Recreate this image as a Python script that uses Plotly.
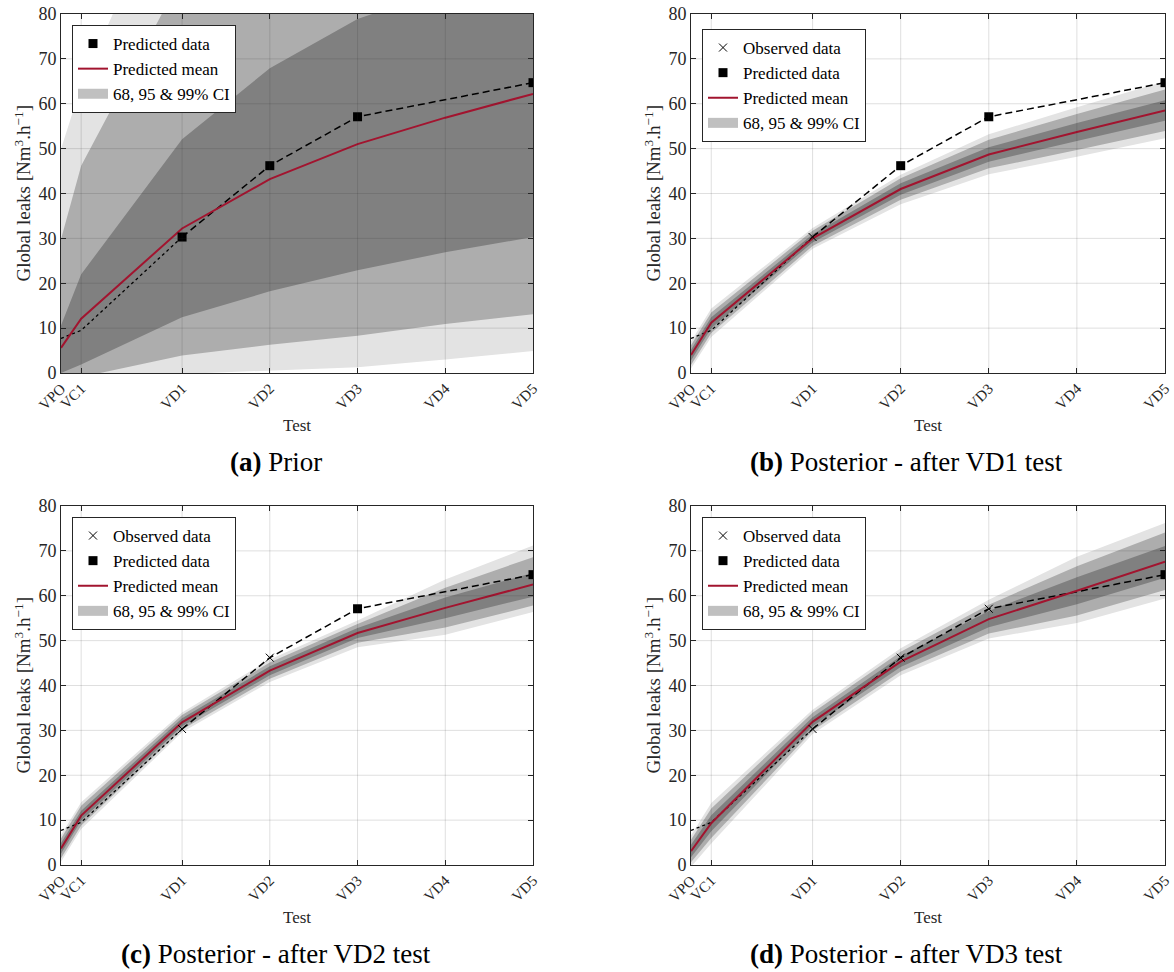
import plotly.graph_objects as go

# ---------------- data ----------------
tests = ["VPO", "VC1", "VD1", "VD2", "VD3", "VD4", "VD5"]
test_pos = [0.0, 0.23, 1.38, 2.38, 3.38, 4.38, 5.38]

# measured leak values (dotted part before VD1, dashed part from VD1)
early_tests = ["VPO", "VC1", "VD1"]
early_vals = [7.7, 9.5, 30.3]
late_tests = ["VD1", "VD2", "VD3", "VD5"]
late_vals = [30.3, 46.2, 57.1, 64.7]

# (a) Prior
a_mean = [5.6, 12.1, 32.2, 43.2, 51.0, 56.9, 62.2]
a_lo68 = [0.0, 1.9, 12.4, 18.2, 22.9, 26.9, 30.3]
a_hi68 = [10.6, 22.0, 52.1, 67.9, 78.9, 85.5, 91.0]
a_lo95 = [-3.0, -0.9, 3.9, 6.3, 8.3, 10.9, 13.1]
a_hi95 = [29.8, 46.2, 88.5, 105.0, 118.0, 128.0, 137.0]
a_lo99 = [-8.0, -5.0, -0.2, 0.6, 1.3, 3.0, 4.9]
a_hi99 = [49.9, 64.0, 115.0, 135.0, 150.0, 160.0, 170.0]
a_obs = []
a_pred = ["VD1", "VD2", "VD3", "VD5"]

# (b) Posterior after VD1
b_mean = [4.0, 11.2, 30.0, 41.0, 48.7, 53.7, 58.5]
b_lo68 = [2.8, 10.0, 29.1, 39.7, 47.1, 51.7, 56.2]
b_hi68 = [5.2, 12.4, 30.9, 42.3, 50.3, 55.7, 60.8]
b_lo95 = [1.8, 8.9, 28.3, 38.6, 45.6, 49.7, 53.9]
b_hi95 = [6.2, 13.5, 31.7, 43.4, 52.0, 57.7, 63.2]
b_lo99 = [1.0, 8.0, 27.7, 37.6, 44.3, 48.2, 52.3]
b_hi99 = [7.0, 14.4, 32.3, 44.2, 53.2, 59.2, 65.0]
b_obs = ["VD1"]
b_pred = ["VD2", "VD3", "VD5"]

# (c) Posterior after VD2
c_mean = [3.7, 11.0, 31.8, 43.3, 51.7, 57.3, 62.5]
c_lo68 = [2.5, 9.9, 30.9, 42.3, 50.6, 55.0, 59.8]
c_hi68 = [4.9, 12.1, 32.7, 44.3, 52.8, 59.6, 65.1]
c_lo95 = [1.5, 8.8, 30.2, 41.5, 49.5, 52.9, 57.8]
c_hi95 = [5.9, 13.2, 33.4, 45.1, 53.7, 61.8, 68.6]
c_lo99 = [0.7, 8.0, 29.6, 40.8, 48.5, 51.3, 56.4]
c_hi99 = [6.7, 14.0, 34.0, 45.8, 54.5, 63.6, 71.2]
c_obs = ["VD1", "VD2"]
c_pred = ["VD3", "VD5"]

# (d) Posterior after VD3
d_mean = [3.1, 9.3, 31.9, 45.3, 54.8, 61.1, 67.6]
d_lo68 = [1.7, 7.5, 30.9, 44.1, 53.0, 58.1, 64.0]
d_hi68 = [4.5, 11.1, 32.9, 46.5, 56.6, 64.1, 71.1]
d_lo95 = [0.6, 6.0, 29.9, 43.1, 51.6, 55.6, 61.3]
d_hi95 = [5.6, 12.6, 33.9, 47.5, 58.0, 66.6, 74.1]
d_lo99 = [-0.4, 4.8, 29.2, 42.3, 50.5, 53.9, 59.4]
d_hi99 = [6.6, 13.8, 34.6, 48.3, 59.1, 68.7, 76.2]
d_obs = ["VD1", "VD2", "VD3"]
d_pred = ["VD5"]

captions = ["Prior", "Posterior - after VD1 test",
            "Posterior - after VD2 test", "Posterior - after VD3 test"]
letters = ["a", "b", "c", "d"]
y_ticks = [0, 10, 20, 30, 40, 50, 60, 70, 80]

# ---------------- styling ----------------
W, H = 1174, 972
FONT = "Liberation Serif, Times New Roman, serif"
TXT = "#262626"
C99, C95, C68, CLEG = "#e3e3e3", "#adadad", "#808080", "#c0c0c0"
RED = "#A2142F"

# panel boxes in pixels: (left, right, top, bottom)
boxes = [(61, 533, 14, 373), (691, 1165, 14, 373),
         (61, 533, 506, 865), (691, 1165, 506, 865)]
legend_pos = [(72, 25), (702, 29), (72, 517), (702, 517)]
caption_cx = [276, 906, 276, 906]

panels = [
    (a_mean, a_lo68, a_hi68, a_lo95, a_hi95, a_lo99, a_hi99, a_obs, a_pred),
    (b_mean, b_lo68, b_hi68, b_lo95, b_hi95, b_lo99, b_hi99, b_obs, b_pred),
    (c_mean, c_lo68, c_hi68, c_lo95, c_hi95, c_lo99, c_hi99, c_obs, c_pred),
    (d_mean, d_lo68, d_hi68, d_lo95, d_hi95, d_lo99, d_hi99, d_obs, d_pred),
]

pos_of = dict(zip(tests, test_pos))
val_of = dict(zip(early_tests, early_vals))
val_of.update(dict(zip(late_tests, late_vals)))

fig = go.Figure()
layout = dict(width=W, height=H, margin=dict(l=0, r=0, t=0, b=0, autoexpand=False),
              paper_bgcolor="white", plot_bgcolor="white",
              font=dict(family=FONT, color=TXT), shapes=[], annotations=[])

for i, (mean, lo68, hi68, lo95, hi95, lo99, hi99, obs, pred) in enumerate(panels):
    n = i + 1
    xa = "x" if n == 1 else f"x{n}"
    ya = "y" if n == 1 else f"y{n}"
    leg = "legend" if n == 1 else f"legend{n}"
    L, R, T, B = boxes[i]

    # confidence bands (99, 95, 68)
    for lo, hi, col in [(lo99, hi99, C99), (lo95, hi95, C95), (lo68, hi68, C68)]:
        fig.add_trace(go.Scatter(
            x=test_pos + test_pos[::-1], y=hi + lo[::-1], fill="toself",
            fillcolor=col, line=dict(width=0), mode="lines",
            showlegend=False, hoverinfo="skip", xaxis=xa, yaxis=ya))

    # data lines
    fig.add_trace(go.Scatter(
        x=[pos_of[t] for t in early_tests], y=early_vals, mode="lines",
        line=dict(color="black", width=1.3, dash="dot"),
        showlegend=False, xaxis=xa, yaxis=ya))
    fig.add_trace(go.Scatter(
        x=[pos_of[t] for t in late_tests], y=late_vals, mode="lines",
        line=dict(color="black", width=1.5, dash="7px,4px"),
        showlegend=False, xaxis=xa, yaxis=ya))

    # predicted mean
    fig.add_trace(go.Scatter(
        x=test_pos, y=mean, mode="lines", name="Predicted mean",
        line=dict(color=RED, width=2), legend=leg, legendrank=3,
        xaxis=xa, yaxis=ya))

    # observed markers
    if obs:
        fig.add_trace(go.Scatter(
            x=[pos_of[t] for t in obs], y=[val_of[t] for t in obs],
            mode="markers", name="Observed data",
            marker=dict(symbol="x-thin-open", size=8, color="black",
                        line=dict(width=1, color="black")),
            legend=leg, legendrank=1, xaxis=xa, yaxis=ya))
    # predicted markers
    fig.add_trace(go.Scatter(
        x=[pos_of[t] for t in pred], y=[val_of[t] for t in pred],
        mode="markers", name="Predicted data",
        marker=dict(symbol="square", size=9, color="black"),
        legend=leg, legendrank=2, xaxis=xa, yaxis=ya))
    # CI legend entry (legend only)
    fig.add_trace(go.Scatter(
        x=[None], y=[None], mode="lines",
        line=dict(width=14, color=CLEG), name="68, 95 & 99% CI",
        legend=leg, legendrank=4, xaxis=xa, yaxis=ya))

    xdom = [L / W, R / W]
    ydom = [1 - B / H, 1 - T / H]
    axkey_x = "xaxis" if n == 1 else f"xaxis{n}"
    axkey_y = "yaxis" if n == 1 else f"yaxis{n}"
    layout[axkey_x] = dict(
        domain=xdom, anchor=ya, range=[test_pos[0], test_pos[-1]],
        tickvals=test_pos, ticktext=tests, tickangle=-45, automargin=False,
        ticks="inside", ticklen=5, tickcolor=TXT, mirror="ticks",
        showline=True, linecolor=TXT, linewidth=1, showgrid=False,
        zeroline=False, tickfont=dict(family=FONT, size=15, color=TXT))
    layout[axkey_y] = dict(
        domain=ydom, anchor=xa, range=[0, 80], tickvals=y_ticks,
        automargin=False,
        ticks="inside", ticklen=5, tickcolor=TXT, mirror="ticks",
        showline=True, linecolor=TXT, linewidth=1, showgrid=False,
        zeroline=False, tickfont=dict(family=FONT, size=18, color=TXT))

    # grid lines drawn above the bands (MATLAB style)
    for xv in test_pos[1:-1]:
        layout["shapes"].append(dict(
            type="line", xref=xa, yref=ya, x0=xv, x1=xv, y0=0, y1=80,
            line=dict(color="rgba(38,38,38,0.15)", width=1), layer="above"))
    for yv in y_ticks[1:-1]:
        layout["shapes"].append(dict(
            type="line", xref=xa, yref=ya, x0=test_pos[0], x1=test_pos[-1],
            y0=yv, y1=yv,
            line=dict(color="rgba(38,38,38,0.15)", width=1), layer="above"))

    lx, ly = legend_pos[i]
    layout[leg] = dict(
        x=lx / W, y=1 - ly / H, xanchor="left", yanchor="top",
        bgcolor="white", bordercolor=TXT, borderwidth=1,
        font=dict(family=FONT, size=17, color="black"),
        tracegroupgap=0, itemwidth=30, traceorder="normal")

    # axis titles & captions
    cx = (L + R) / 2
    layout["annotations"].append(dict(
        text="Test", x=cx / W, y=1 - (B + 52) / H, xref="paper", yref="paper",
        xanchor="center", yanchor="middle",
        showarrow=False, font=dict(family=FONT, size=17, color=TXT)))
    layout["annotations"].append(dict(
        text="Global leaks [Nm<sup>3</sup>.h<sup>−1</sup>]",
        x=22 / W + (L - 61) / W, y=1 - (T + B) / 2 / H,
        xref="paper", yref="paper", xanchor="center", yanchor="middle",
        textangle=-90, showarrow=False,
        font=dict(family=FONT, size=19, color=TXT)))
    layout["annotations"].append(dict(
        text=f"<b>({letters[i]})</b> {captions[i]}",
        x=caption_cx[i] / W, y=1 - (B + 89) / H, xref="paper", yref="paper",
        xanchor="center", yanchor="middle",
        showarrow=False, font=dict(family=FONT, size=27, color="black")))

fig.update_layout(**layout)
fig.write_html(
    "out.html", config={"displayModeBar": False},
    post_script="document.body.style.margin='0';document.body.style.overflow='hidden';")
